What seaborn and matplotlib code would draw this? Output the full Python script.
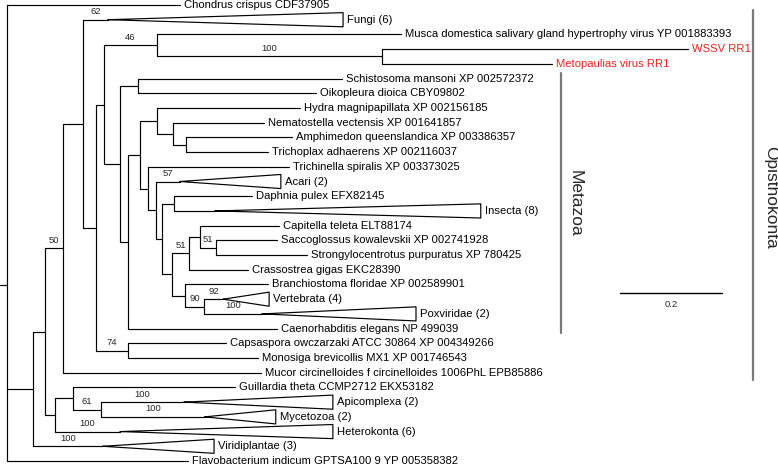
import numpy as np
import pandas as pd
import matplotlib
matplotlib.use("Agg")
import matplotlib.pyplot as plt
import seaborn as sns

# ---------------- data ----------------
# internal nodes: id, parent, depth from root (substitutions/site)
node_ids = ["root", "euk", "n45", "n63", "n83", "n96", "n104", "musca_v", "virus",
            "met0", "schoik", "met1", "met2", "hyd", "nem", "amp", "bil", "b1", "b2",
            "ecd", "b3", "b4", "b5", "amb", "chord", "vp", "capmon", "n55", "n73", "n101"]
node_parent = [None, "root", "euk", "n45", "n63", "n83", "n96", "n104", "musca_v",
               "n104", "met0", "met0", "met1", "met2", "hyd", "nem", "met2", "bil", "b1",
               "b2", "b2", "b3", "b4", "b5", "b3", "chord", "n96", "n45", "n55", "n73"]
node_depth = [0.000, 0.051, 0.075, 0.110, 0.149, 0.175, 0.190, 0.294, 0.735,
              0.222, 0.257, 0.237, 0.261, 0.294, 0.325, 0.351, 0.276, 0.292, 0.304,
              0.327, 0.324, 0.357, 0.378, 0.410, 0.349, 0.386, 0.237, 0.094, 0.129, 0.184]

# leaves (top to bottom)
leaf_names = [
    "Chondrus crispus CDF37905",
    "Fungi (6)",
    "Musca domestica salivary gland hypertrophy virus YP 001883393",
    "WSSV RR1",
    "Metopaulias virus RR1",
    "Schistosoma mansoni XP 002572372",
    "Oikopleura dioica CBY09802",
    "Hydra magnipapillata XP 002156185",
    "Nematostella vectensis XP 001641857",
    "Amphimedon queenslandica XP 003386357",
    "Trichoplax adhaerens XP 002116037",
    "Trichinella spiralis XP 003373025",
    "Acari (2)",
    "Daphnia pulex EFX82145",
    "Insecta (8)",
    "Capitella teleta ELT88174",
    "Saccoglossus kowalevskii XP 002741928",
    "Strongylocentrotus purpuratus XP 780425",
    "Crassostrea gigas EKC28390",
    "Branchiostoma floridae XP 002589901",
    "Vertebrata (4)",
    "Poxviridae (2)",
    "Caenorhabditis elegans NP 499039",
    "Capsaspora owczarzaki ATCC 30864 XP 004349266",
    "Monosiga brevicollis MX1 XP 001746543",
    "Mucor circinelloides f circinelloides 1006PhL EPB85886",
    "Guillardia theta CCMP2712 EKX53182",
    "Apicomplexa (2)",
    "Mycetozoa (2)",
    "Heterokonta (6)",
    "Viridiplantae (3)",
    "Flavobacterium indicum GPTSA100 9 YP 005358382",
]
leaf_parent = ["root", "n83", "musca_v", "virus", "virus", "schoik", "schoik", "hyd", "nem",
               "amp", "amp", "bil", "b1", "ecd", "ecd", "b5", "amb", "amb", "b4", "chord",
               "vp", "vp", "met1", "capmon", "capmon", "n63", "n73", "n101", "n101", "n55",
               "euk", "root"]
# depth of collapsed-clade apex (NaN = single sequence)
leaf_apex = [np.nan, 0.198, np.nan, np.nan, np.nan, np.nan, np.nan, np.nan, np.nan,
             np.nan, np.nan, np.nan, 0.339, np.nan, 0.408, np.nan, np.nan, np.nan, np.nan,
             np.nan, 0.424, 0.500, np.nan, np.nan, np.nan, np.nan, np.nan, 0.347, 0.388,
             0.222, 0.188, np.nan]
# depth of tip (or far edge of collapsed clade)
leaf_tip = [0.339, 0.659, 0.773, 1.335, 1.069, 0.657, 0.606, 0.575, 0.504,
            0.559, 0.512, 0.553, 0.537, 0.480, 0.929, 0.533, 0.529, 0.588, 0.473,
            0.512, 0.514, 0.802, 0.529, 0.429, 0.492, 0.498, 0.447, 0.639, 0.527,
            0.639, 0.406, 0.355]
highlight = ["WSSV RR1", "Metopaulias virus RR1"]

# bootstrap support: clade -> value
support_clades = ["Fungi (6)", "musca_v", "virus", "Acari (2)", "amb", "b4", "vp",
                  "Vertebrata (4)", "Poxviridae (2)", "n63", "capmon", "Apicomplexa (2)",
                  "n101", "Mycetozoa (2)", "Heterokonta (6)", "Viridiplantae (3)"]
support_values = [62, 46, 100, 57, 51, 51, 90, 92, 100, 50, 74, 100, 61, 100, 100, 100]

# group brackets
group_names = ["Metazoa", "Opisthokonta"]
group_first = [4.6, 0.35]
group_last = [22.3, 25.5]
group_x = [1.086, 1.463]

scale_length = 0.2

# ---------------- layout ----------------
depth = dict(zip(node_ids, node_depth))
parent = dict(zip(node_ids, node_parent))
children = {n: [] for n in node_ids}
for n, p in zip(node_ids, node_parent):
    if p is not None:
        children[p].append(n)
for n, p in zip(leaf_names, leaf_parent):
    children[p].append(n)
    parent[n] = p
ypos = {n: i for i, n in enumerate(leaf_names)}


def get_y(n):
    if n in ypos:
        return ypos[n]
    ys = [get_y(c) for c in children[n]]
    ypos[n] = float(np.mean(ys))
    return ypos[n]


get_y("root")

start_depth = {}  # where the horizontal branch ends (node position)
for n in node_ids:
    start_depth[n] = depth[n]
for n, a, t in zip(leaf_names, leaf_apex, leaf_tip):
    start_depth[n] = a if not np.isnan(a) else t
    depth[n] = t

rows = []
seg = 0


def add(xs, ys):
    global seg
    for x, y in zip(xs, ys):
        rows.append({"seg": seg, "x": x, "y": y})
    seg += 1


# horizontal branches
for n in list(node_ids) + list(leaf_names):
    p = parent.get(n)
    if p is None:
        continue
    add([depth[p], start_depth[n]], [ypos[n], ypos[n]])
# vertical connectors
for n in node_ids:
    cy = [ypos[c] for c in children[n]]
    add([depth[n], depth[n]], [min(cy), max(cy)])
# root stub
add([-0.0137, 0.0], [ypos["root"], ypos["root"]])
# collapsed clades
half = 0.48
for n, a, t in zip(leaf_names, leaf_apex, leaf_tip):
    if np.isnan(a):
        continue
    y = ypos[n]
    add([a, t, t, a], [y, y - half, y + half, y])

tree_df = pd.DataFrame(rows)

# ---------------- plot ----------------
sns.set_theme(style="white")
plt.rcParams["font.family"] = ["Liberation Sans", "DejaVu Sans"]

fig = plt.figure(figsize=(7.78, 4.66), dpi=100)
ax = fig.add_axes([0, 0, 1, 1])

sns.lineplot(data=tree_df, x="x", y="y", units="seg", estimator=None, sort=False,
             color="black", linewidth=0.85, ax=ax, legend=False)

# leaf labels
for n in leaf_names:
    col = "#e8231f" if n in highlight else "black"
    ax.text(depth[n] + 0.008, ypos[n], n, ha="left", va="center", fontsize=8.1, color=col)

# support labels
for c, v in zip(support_clades, support_values):
    x0 = depth[parent[c]]
    x1 = start_depth[c]
    ax.text((x0 + x1) / 2, ypos[c] - 0.55, str(v), ha="center", va="center",
            fontsize=6.8)

# group brackets
br_rows = []
for i, (g, a, b, x) in enumerate(zip(group_names, group_first, group_last, group_x)):
    br_rows += [{"seg": i, "x": x, "y": a}, {"seg": i, "x": x, "y": b}]
br_df = pd.DataFrame(br_rows)
sns.lineplot(data=br_df, x="x", y="y", units="seg", estimator=None, sort=False,
             color="#7a7a7a", linewidth=1.6, ax=ax, legend=False)
label_dx = [0.028, 0.035]
label_y = [13.46, 13.05]
for g, x, dx, yy in zip(group_names, group_x, label_dx, label_y):
    ax.text(x + dx, yy, g, rotation=270, ha="center", va="center", fontsize=12.5)

# scale bar
sb_x0 = 1.202
sb_y = 19.58
sb_df = pd.DataFrame({"x": [sb_x0, sb_x0 + scale_length], "y": [sb_y, sb_y]})
sns.lineplot(data=sb_df, x="x", y="y", estimator=None, sort=False, color="black",
             linewidth=1.0, ax=ax)
ax.text(sb_x0 + scale_length / 2, sb_y + 0.75, f"{scale_length:g}", ha="center",
        va="center", fontsize=6.8)

ax.set_xlim(-0.0137, 1.5118)
ax.set_ylim(31.34, -0.34)
ax.axis("off")

fig.savefig("out.png", dpi=100)
